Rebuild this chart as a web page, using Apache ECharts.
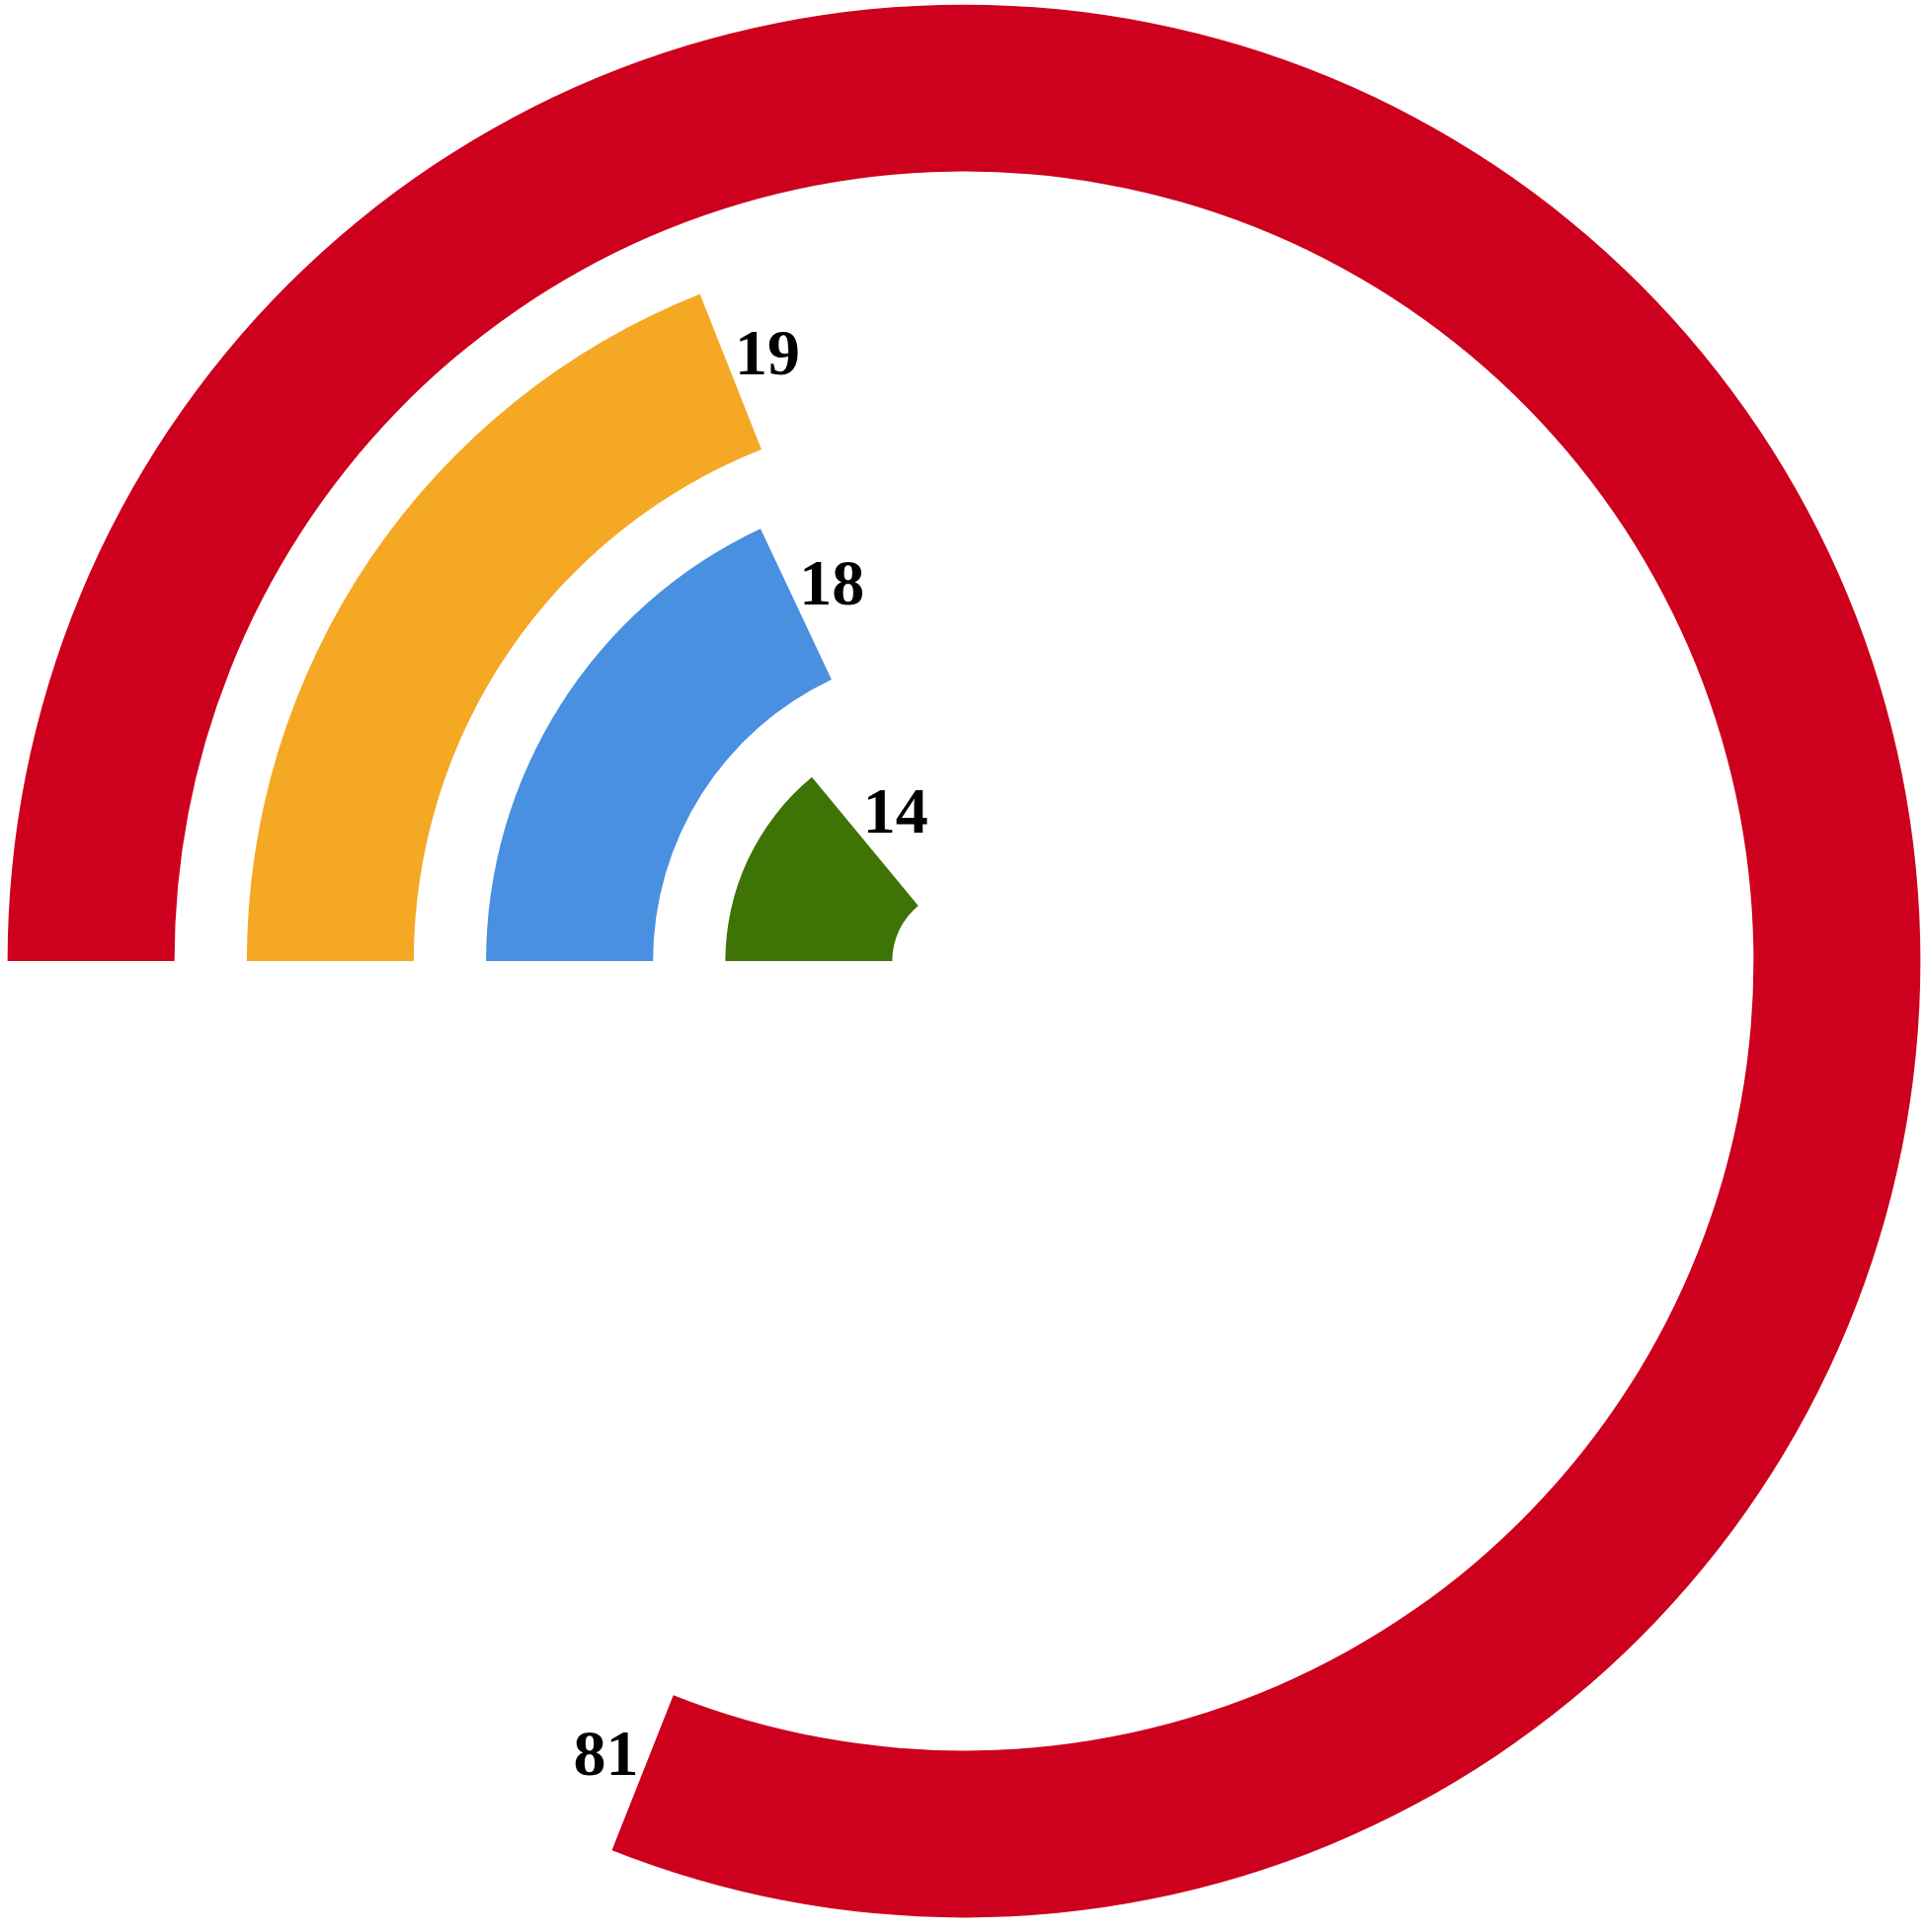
<!DOCTYPE html>
<html>
<head>
<meta charset="utf-8">
<title>radial bars</title>
<script src="https://cdn.jsdelivr.net/npm/echarts@6/dist/echarts.min.js"></script>
<style>
  html, body { margin: 0; padding: 0; background: #fff; }
  #chart { width: 1950px; height: 1956px; }
</style>
</head>
<body>
<div id="chart"></div>
<script>
    // rings from the centre outwards
    var categories = ['g', 'b', 'y', 'r'];
    var values = [14, 18, 19, 81];
    var colors = ['#3E7405', '#4A90E1', '#F4A824', '#CD011D'];

    var myChart = echarts.init(document.getElementById('chart'));

    var option = {
        animation: false,
        polar: {
            center: [976, 973],
            radius: [36, 1005]
        },
        angleAxis: {
            type: 'value',
            min: 0,
            max: 100,
            startAngle: 180,
            clockwise: true,
            show: false
        },
        radiusAxis: {
            type: 'category',
            data: categories,
            show: false
        },
        series: [{
            type: 'bar',
            coordinateSystem: 'polar',
            barWidth: 169,
            data: values.map(function (v, i) {
                return { value: v, itemStyle: { color: colors[i] } };
            }),
            label: {
                show: true,
                position: 'end',
                rotate: 0,
                distance: 40,
                align: 'center',
                verticalAlign: 'middle',
                color: '#000',
                fontSize: 66,
                fontWeight: 'bold',
                fontFamily: 'Liberation Serif'
            }
        }]
    };

    myChart.setOption(option);
</script>
</body>
</html>
